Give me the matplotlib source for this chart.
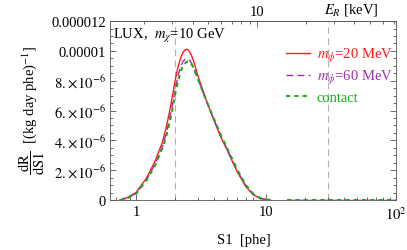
import numpy as np
import matplotlib
matplotlib.use("Agg")
import matplotlib.pyplot as plt
from matplotlib.ticker import FixedLocator, FuncFormatter, LogLocator, NullFormatter, MultipleLocator

plt.rcParams['font.family'] = ['Liberation Serif', 'DejaVu Serif']
plt.rcParams['mathtext.fontset'] = 'stix'

# ---- data (S1 in phe, rate in 1e-6 /(kg day phe)) ----
s1 = [0.75, 0.85, 1.0, 1.2, 1.4, 1.6, 1.7, 1.8, 1.9, 2.0, 2.1, 2.2, 2.3, 2.4, 2.5, 2.6,
      2.7, 2.8, 3.0, 3.5, 4.0, 4.5, 5.0, 5.5, 6.0, 7.0, 8.0, 9.0, 10.0, 10.8]
rate_20 = [0, 0.15, 0.5, 1.45, 2.6, 3.9, 4.8, 5.8, 6.9, 8.0, 8.9, 9.5, 9.9, 10.1, 10.1, 9.9,
           9.6, 9.2, 8.3, 6.6, 5.3, 4.2, 3.4, 2.6, 1.9, 0.9, 0.35, 0.12, 0.03, 0.0]
rate_60 = [0, 0.12, 0.45, 1.35, 2.4, 3.6, 4.4, 5.3, 6.3, 7.4, 8.3, 8.9, 9.3, 9.45, 9.45, 9.35,
           9.1, 8.8, 8.1, 6.6, 5.35, 4.3, 3.45, 2.7, 2.0, 0.95, 0.38, 0.13, 0.035, 0.0]
rate_ct = [0, 0.1, 0.42, 1.3, 2.3, 3.5, 4.2, 5.1, 6.0, 7.1, 7.9, 8.6, 9.0, 9.2, 9.3, 9.25,
           9.05, 8.75, 8.1, 6.6, 5.4, 4.35, 3.5, 2.75, 2.05, 1.0, 0.4, 0.14, 0.04, 0.0]
s1_tail = [14.5, 100]
rate_tail = [0, 0]
thresholds = [2, 30]
labels = [r"$m_\phi$=20 MeV", r"$m_\phi$=60 MeV", "contact"]
colors = ["#ff1a1a", "#9933aa", "#1aaa1a"]
yticks = [0, 2e-6, 4e-6, 6e-6, 8e-6, 1e-5, 1.2e-5]
ytick_labels = ["0", r"$2.\!\times\!10^{-6}$", r"$4.\!\times\!10^{-6}$", r"$6.\!\times\!10^{-6}$",
                r"$8.\!\times\!10^{-6}$", "0.00001", "0.000012"]

FS = 10.5
fig = plt.figure(figsize=(4.07, 2.51), dpi=100)
ax = fig.add_axes([0.270, 0.199, 0.703, 0.713])

for xv in thresholds:
    ax.axvline(xv, color="#b0b0b0", lw=0.8, ls=(0, (6, 4)), zorder=1)

styles = ["-", (0, (5, 3)), (0, (2, 2))]
widths = [1.0, 1.0, 1.5]
series = [rate_20, rate_60, rate_ct]
for r, c, ls, lw, lab in zip(series, colors, styles, widths, labels):
    y = np.array(r) * 1e-6
    ax.plot(s1, y, color=c, ls=ls, lw=lw, label=lab, zorder=3)
    ax.plot(s1_tail, np.array(rate_tail) * 1e-6, color=c, ls=ls, lw=lw, zorder=3)

ax.set_xscale("log")
ax.set_xlim(0.63, 100)
ax.set_ylim(0, 1.2e-5)
ax.set_yticks(yticks)
ax.set_yticklabels(ytick_labels)
ax.yaxis.set_minor_locator(MultipleLocator(0.5e-6))
ax.xaxis.set_major_locator(FixedLocator([1, 10, 100]))
ax.xaxis.set_major_formatter(FuncFormatter(lambda v, p: {1: "1", 10: "10", 100: r"$10^2$"}.get(round(v), "")))
ax.xaxis.set_minor_locator(LogLocator(base=10, subs=np.arange(2, 10)))
ax.xaxis.set_minor_formatter(NullFormatter())
ax.tick_params(which="both", direction="in", labelsize=FS, color="#555555", width=0.6)
ax.tick_params(which="major", length=4)
ax.tick_params(which="minor", length=2)
ax.tick_params(axis="y", which="both", right=True, pad=3)
ax.tick_params(axis="x", which="both", top=False)
for sp in ax.spines.values():
    sp.set_color("#555555")
    sp.set_linewidth(0.6)

# secondary axis: E_R [keV]
def s1_to_er(x):
    x = np.maximum(np.asarray(x, dtype=float), 1e-6)
    return 10 * (x / 8.53) ** (1 / 1.244)

def er_to_s1(e):
    e = np.maximum(np.asarray(e, dtype=float), 1e-6)
    return 8.53 * (e / 10) ** 1.244

sec = ax.secondary_xaxis("top", functions=(s1_to_er, er_to_s1))
sec.xaxis.set_major_locator(FixedLocator([10]))
sec.xaxis.set_major_formatter(FuncFormatter(lambda v, p: "10"))
sec.xaxis.set_minor_locator(LogLocator(base=10, subs=np.arange(2, 10)))
sec.xaxis.set_minor_formatter(NullFormatter())
sec.tick_params(which="both", direction="in", labelsize=FS, color="#555555", width=0.6, pad=2)
sec.tick_params(which="major", length=4)
sec.tick_params(which="minor", length=2)
sec.spines["top"].set_color("#555555")
sec.spines["top"].set_linewidth(0.6)

fig.text(0.862, 0.962, r"$E_R$ [keV]", fontsize=FS, ha="center", va="center")
ax.text(0.012, 0.925, r"LUX,  $m_\chi$=10 GeV", transform=ax.transAxes, fontsize=FS,
        ha="left", va="center")

leg = ax.legend(loc="upper right", bbox_to_anchor=(1.01, 0.895), frameon=False, fontsize=FS,
                handlelength=1.6, handletextpad=0.5, labelspacing=0.3, borderaxespad=0)
for t, c in zip(leg.get_texts(), colors):
    t.set_color(c)

fig.text(0.60, 0.04, "S1  [phe]", fontsize=FS, ha="center", va="center")
fig.text(0.078, 0.56, r"$\dfrac{\mathrm{dR}}{\mathrm{dS1}}$  [(kg day phe)$^{-1}$]", fontsize=FS,
         rotation=90, ha="center", va="center")

fig.savefig("out.png", dpi=100)
